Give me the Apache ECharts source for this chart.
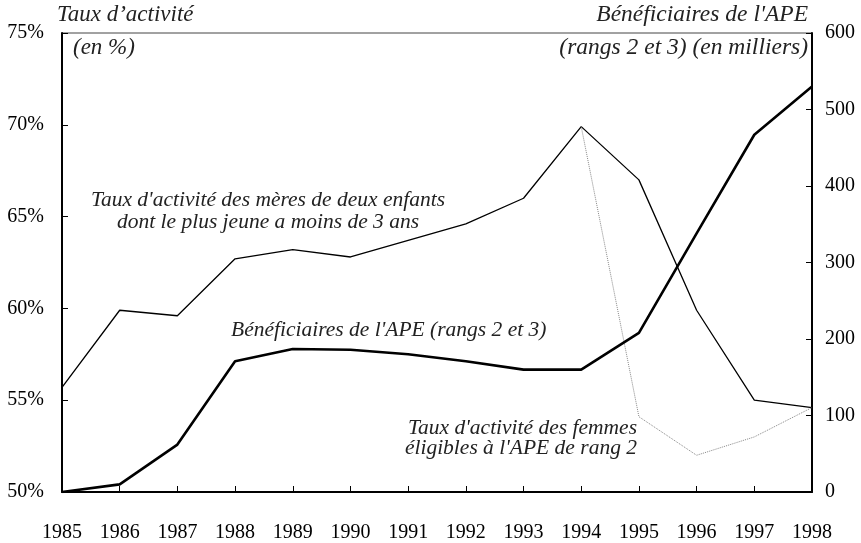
<!DOCTYPE html>
<html>
<head>
<meta charset="utf-8">
<script src="https://cdn.jsdelivr.net/npm/echarts@6/dist/echarts.min.js"></script>
<style>
	html, body {margin: 0; padding: 0; background: #fff;}
	#main {width: 861px; height: 543px;}
</style>
</head>
<body>
<div id="main"></div>
<script>
var years = ['1985', '1986', '1987', '1988', '1989', '1990', '1991', '1992', '1993', '1994', '1995', '1996', '1997', '1998'];
// taux d'activite des meres de deux enfants (en %)
var tauxMeres = [55.7, 59.9, 59.6, 62.7, 63.2, 62.8, 63.7, 64.6, 66.0, 69.9, 67.0, 59.9, 55.0, 54.6];
// taux d'activite des femmes eligibles a l'APE de rang 2 (en %)
var tauxEligibles = [null, null, null, null, null, null, null, null, null, 69.9, 54.1, 52.0, 53.0, 54.6];
// beneficiaires de l'APE rangs 2 et 3 (en milliers)
var beneficiaires = [0, 10, 62, 171, 187, 186, 180, 171, 160, 160, 208, 338, 467, 530];

var serif = '"Liberation Serif", "DejaVu Serif", serif';

var myChart = echarts.init(document.getElementById('main'));
var option = {
	backgroundColor: '#fff',
	animation: false,
	textStyle: {fontFamily: serif},
	grid: {
		left: 62, right: 49, top: 33, bottom: 48,
		show: true, borderColor: '#444', borderWidth: 1
	},
	xAxis: {
		type: 'category',
		data: years,
		boundaryGap: false,
		axisLine: {lineStyle: {color: '#000', width: 2}},
		axisTick: {inside: true, length: 6, lineStyle: {color: '#000', width: 1}},
		axisLabel: {color: '#000', fontSize: 20, fontFamily: serif, margin: 31},
		splitLine: {show: false}
	},
	yAxis: [
		{
			type: 'value',
			min: 50, max: 75, interval: 5,
			axisLine: {show: true, lineStyle: {color: '#000', width: 2}},
			axisTick: {show: true, inside: true, length: 6, lineStyle: {color: '#000'}},
			axisLabel: {color: '#000', fontSize: 20, fontFamily: serif, margin: 18, formatter: '{value}%'},
			splitLine: {show: false}
		},
		{
			type: 'value',
			min: 0, max: 600, interval: 100,
			position: 'right',
			axisLine: {show: true, lineStyle: {color: '#000', width: 2}},
			axisTick: {show: true, inside: true, length: 6, lineStyle: {color: '#000'}},
			axisLabel: {color: '#000', fontSize: 20, fontFamily: serif, margin: 13},
			splitLine: {show: false}
		}
	],
	series: [
		{
			name: 'Taux d\'activité des mères',
			type: 'line',
			yAxisIndex: 0,
			data: tauxMeres,
			symbol: 'none',
			lineStyle: {color: '#000', width: 1.3}
		},
		{
			name: 'Taux d\'activité des femmes éligibles',
			type: 'line',
			yAxisIndex: 0,
			data: tauxEligibles,
			symbol: 'none',
			lineStyle: {color: '#888', width: 1, type: 'dotted'}
		},
		{
			name: 'Bénéficiaires de l\'APE',
			type: 'line',
			yAxisIndex: 1,
			data: beneficiaires,
			symbol: 'none',
			lineStyle: {color: '#000', width: 2.6}
		}
	],
	graphic: [
		{type: 'text', x: 57, y: 15, style: {text: 'Taux d’activité', font: 'italic 23px ' + serif, fill: '#222', verticalAlign: 'middle'}},
		{type: 'text', x: 73, y: 48, style: {text: '(en %)', font: 'italic 23px ' + serif, fill: '#222', verticalAlign: 'middle'}},
		{type: 'text', x: 808, y: 15, style: {text: 'Bénéficiaires de l\'APE', font: 'italic 23.5px ' + serif, fill: '#222', align: 'right', verticalAlign: 'middle'}},
		{type: 'text', x: 808, y: 48, style: {text: '(rangs 2 et 3) (en milliers)', font: 'italic 23.5px ' + serif, fill: '#222', align: 'right', verticalAlign: 'middle'}},
		{type: 'text', x: 268, y: 211, style: {text: 'Taux d\'activité des mères de deux enfants\ndont le plus jeune a moins de 3 ans', font: 'italic 21.5px ' + serif, fill: '#222', align: 'center', verticalAlign: 'middle', lineHeight: 22}},
		{type: 'text', x: 231, y: 330, style: {text: 'Bénéficiaires de l\'APE (rangs 2 et 3)', font: 'italic 21.5px ' + serif, fill: '#222', verticalAlign: 'middle'}},
		{type: 'text', x: 637, y: 438, style: {text: 'Taux d\'activité des femmes\néligibles à l\'APE de rang 2', font: 'italic 21.5px ' + serif, fill: '#222', align: 'right', verticalAlign: 'middle', lineHeight: 20}}
	]
};
myChart.setOption(option, true);
</script>
</body>
</html>
